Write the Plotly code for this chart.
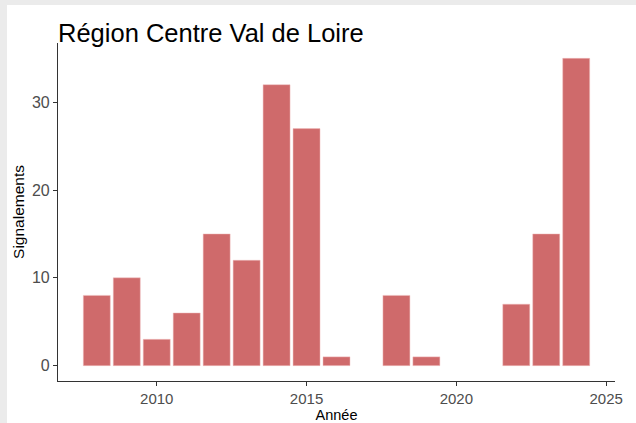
import plotly.graph_objects as go

# Annual report counts
annees = [2008, 2009, 2010, 2011, 2012, 2013, 2014, 2015, 2016, 2018, 2019, 2022, 2023, 2024]
signalements = [8, 10, 3, 6, 15, 12, 32, 27, 1, 8, 1, 7, 15, 35]

x_ticks = [2010, 2015, 2020, 2025]
y_ticks = [0, 10, 20, 30]

W, H = 636, 423
L, R, T, B = 58, 21, 43, 42
pw, ph = W - L - R, H - T - B

bar_w = 0.9
xmin, xmax = min(annees) - bar_w / 2, max(annees) + bar_w / 2
xpad = (xmax - xmin) * 0.05
ymax = max(signalements)
ypad = ymax * 0.05

FONT = "Liberation Sans, Arial, sans-serif"

fig = go.Figure(
    go.Bar(
        x=annees,
        y=signalements,
        width=bar_w,
        marker=dict(color="#CF6A6B", line=dict(color="rgba(240,190,190,0.8)", width=0.6)),
        hoverinfo="x+y",
    )
)

# light grey strips along the top and left edges of the canvas
def px_x(v):
    return (v - L) / pw

def px_y(v):
    return (H - B - v) / ph

fig.add_shape(
    type="rect", xref="paper", yref="paper", layer="below",
    x0=px_x(0), x1=px_x(W + 2), y0=px_y(5), y1=px_y(-2),
    fillcolor="#EBEBEB", line=dict(width=0),
)
fig.add_shape(
    type="rect", xref="paper", yref="paper", layer="below",
    x0=px_x(-2), x1=px_x(7), y0=px_y(H + 2), y1=px_y(-2),
    fillcolor="#EBEBEB", line=dict(width=0),
)

axis_common = dict(
    automargin=False,
    showgrid=False,
    zeroline=False,
    showline=True,
    linecolor="#333333",
    linewidth=1.1,
    ticks="outside",
    ticklen=4,
    tickwidth=1.1,
    tickcolor="#333333",
)

fig.update_layout(
    width=W,
    height=H,
    margin=dict(l=L, r=R, t=T, b=B),
    paper_bgcolor="white",
    plot_bgcolor="white",
    showlegend=False,
    title=dict(
        text="Région Centre Val de Loire",
        x=0, xref="paper", xanchor="left",
        y=(H - 42) / H, yref="container", yanchor="bottom",
        font=dict(family=FONT, size=25.5, color="black"),
        pad=dict(l=0, b=0, t=0, r=0),
    ),
    xaxis=dict(
        axis_common,
        range=[xmin - xpad, xmax + xpad],
        tickvals=x_ticks,
        tickfont=dict(family=FONT, size=15, color="#4D4D4D"),
        title=dict(text="Année", standoff=4,
                   font=dict(family=FONT, size=14.5, color="black")),
    ),
    yaxis=dict(
        axis_common,
        range=[-ypad, ymax + ypad],
        tickvals=y_ticks,
        tickfont=dict(family=FONT, size=16, color="#4D4D4D"),
        title=dict(text="Signalements", standoff=3,
                   font=dict(family=FONT, size=15.5, color="black")),
    ),
)

fig.write_html("out.html")
